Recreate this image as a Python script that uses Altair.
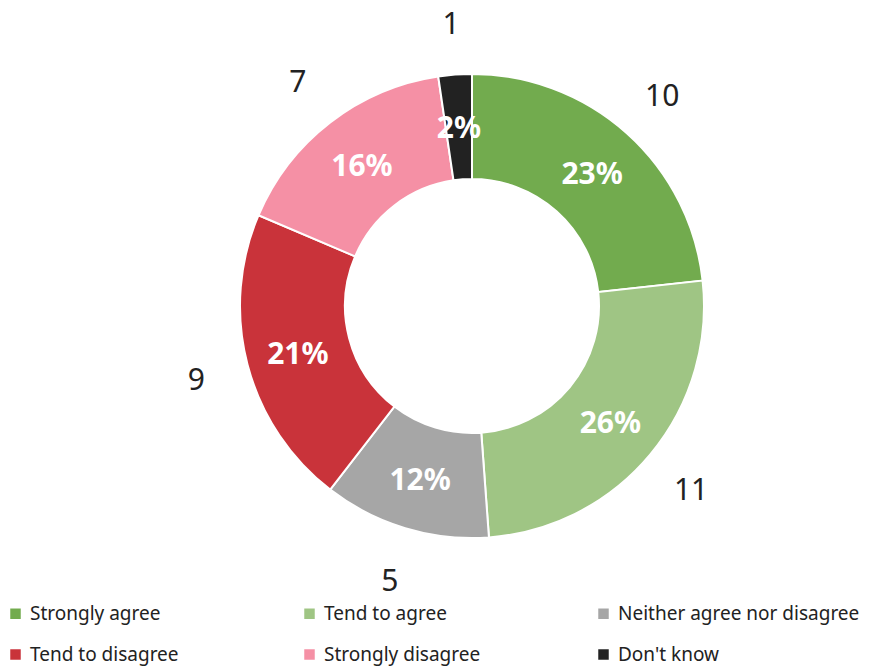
import altair as alt
import pandas as pd

categories = ["Strongly agree", "Tend to agree", "Neither agree nor disagree",
              "Tend to disagree", "Strongly disagree", "Don't know"]
counts = [10, 11, 5, 9, 7, 1]
colors = ["#72AB4E", "#9FC584", "#A6A6A6", "#C9333A", "#F590A5", "#222222"]

total = sum(counts)
df = pd.DataFrame({
    "category": categories,
    "count": counts,
    "order": list(range(len(categories))),
    "pct": [f"{round(c / total * 100)}%" for c in counts],
})

FONT = "Noto Sans"
CX, CY = 464, 298

base = alt.Chart(df).encode(
    theta=alt.Theta("count:Q", stack=True),
    order=alt.Order("order:Q"),
    x=alt.value(CX),
    y=alt.value(CY),
)

arcs = base.mark_arc(outerRadius=232, innerRadius=127, stroke="white", strokeWidth=2).encode(
    color=alt.Color(
        "category:N",
        scale=alt.Scale(domain=categories, range=colors),
        sort=categories,
        legend=alt.Legend(
            title=None, orient="none", legendX=-2, legendY=596, columns=3, padding=0,
            direction="horizontal", gridAlign="all", columnPadding=28, rowPadding=21,
            symbolType="square", symbolSize=110, symbolStrokeWidth=0,
            labelFont=FONT, labelFontSize=19, labelColor="#222222", labelOffset=5,
            labelLimit=400,
        ),
    )
)

pct_text = base.mark_text(radius=180, font=FONT, fontSize=30, fontWeight="bold",
                          color="white", dy=3).encode(text="pct:N")

num_text = base.mark_text(radius=285, font=FONT, fontSize=30,
                          color="#222222", dy=3).encode(text="count:Q")

chart = (arcs + pct_text + num_text).properties(
    width=858, height=658,
    autosize=alt.AutoSizeParams(type="none"),
    padding=0,
).configure_view(stroke=None)

chart.save("out.html", embed_options={"renderer": "svg", "actions": False})
